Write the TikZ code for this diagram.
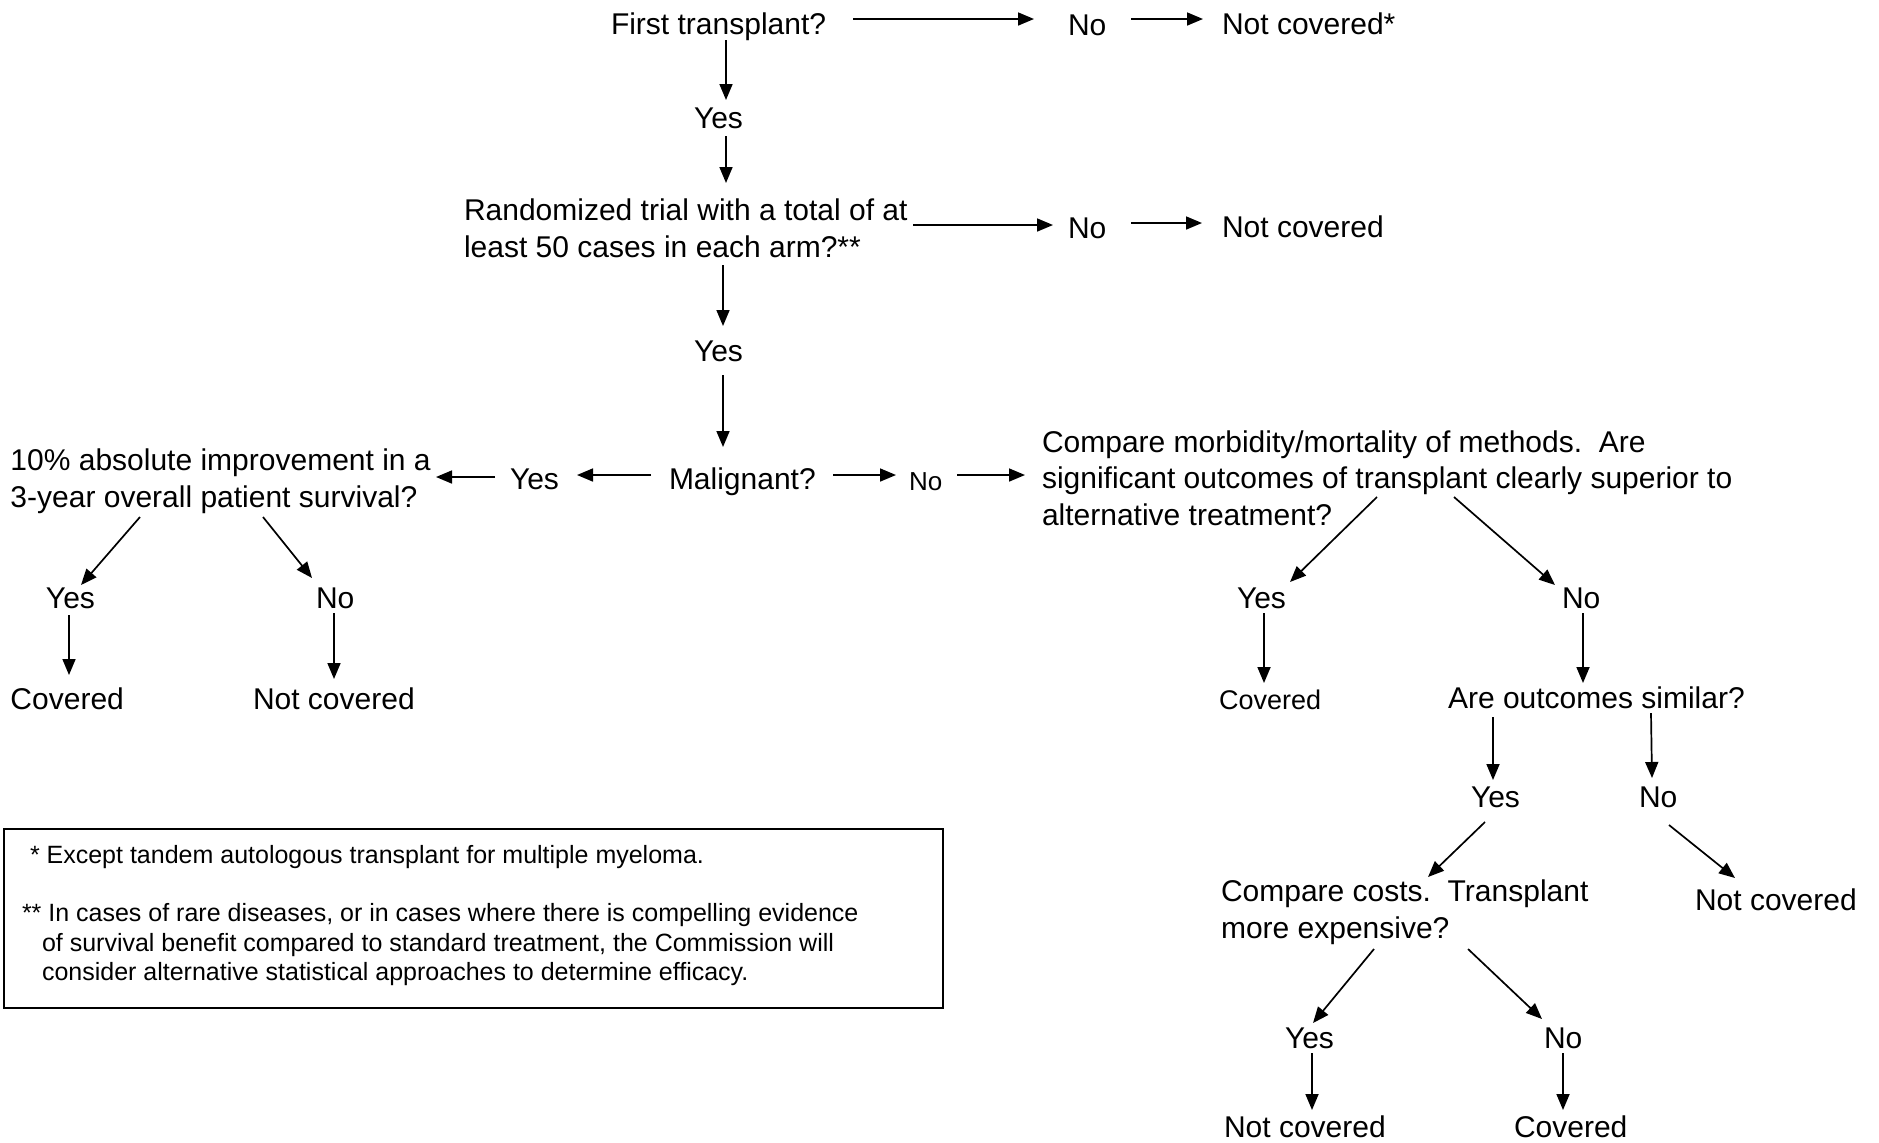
\documentclass[tikz,border=0pt]{standalone}
\usepackage{fontspec}
\setmainfont{Liberation Sans}
\usetikzlibrary{arrows.meta,calc}
\begin{document}
\begin{tikzpicture}[x=0.5pt,y=-0.5pt,
  txt/.style={inner sep=0pt,outer sep=0pt,anchor=base west,align=left,font=\fontsize{15}{18.25}\selectfont},
  smalltxt/.style={txt,font=\fontsize{13}{15}\selectfont},
  midtxt/.style={txt,font=\fontsize{13.5}{16}\selectfont},
  fntxt/.style={txt,font=\fontsize{12.5}{14.75}\selectfont},
  arr/.style={line width=0.85pt,-{Triangle[length=8pt,width=6.5pt]}},
  boxstyle/.style={draw,line width=0.9pt,inner sep=0pt,outer sep=0pt,minimum width=469.5pt,minimum height=89.5pt}]
\useasboundingbox (0,0) rectangle (1879,1142);

% ---- nodes (multi-line nodes are placed at the baseline of their last line) ----
\node[txt] (q1) at (611,34) {First transplant?};
\node[txt] (no1) at (1068,35) {No};
\node[txt] (nc1) at (1222,34) {Not covered*};
\node[txt] (yes1) at (694,128) {Yes};
\node[txt] (q2) at (464,257) {Randomized trial with a total of at\\least 50 cases in each arm?**};
\node[txt] (no2) at (1068,238) {No};
\node[txt] (nc2) at (1222,237) {Not covered};
\node[txt] (yes2) at (694,361) {Yes};
\node[txt] (mal) at (669,489) {Malignant?};
\node[txt] (yes3) at (510,489) {Yes};
\node[smalltxt] (no3) at (909,490) {No};
\node[txt] (q3) at (10.5,507) {10\% absolute improvement in a\\3-year overall patient survival?};
\node[txt] (yes7) at (46,608) {Yes};
\node[txt] (no7) at (316,608) {No};
\node[txt] (cov7) at (10.5,709) {Covered};
\node[txt] (nc7) at (253,709) {Not covered};
\node[txt] (q4) at (1042,525) {Compare morbidity/mortality of methods.\ \ Are\\significant outcomes of transplant clearly superior to\\alternative treatment?};
\node[txt] (yes4) at (1237,608) {Yes};
\node[txt] (no4) at (1562,608) {No};
\node[midtxt] (cov4) at (1219,709) {Covered};
\node[txt] (q5) at (1448,708) {Are outcomes similar?};
\node[txt] (yes5) at (1471,807) {Yes};
\node[txt] (no5) at (1639,807) {No};
\node[txt] (q6) at (1221,938) {Compare costs.\ \ Transplant\\more expensive?};
\node[txt] (nc5) at (1695,910) {Not covered};
\node[txt] (yes6) at (1285,1048) {Yes};
\node[txt] (no6) at (1544,1048) {No};
\node[txt] (nc6) at (1224,1137) {Not covered};
\node[txt] (cov6) at (1514,1137) {Covered};

% ---- footnote box ----
\node[boxstyle] (fnbox) at (473.5,918.5) {};
\node[fntxt] (fn1) at (30,863) {* Except tandem autologous transplant for multiple myeloma.};
\node[fntxt] (fn2) at (22,921) {** In cases of rare diseases, or in cases where there is compelling evidence};
\node[fntxt] (fn3) at (42,951) {of survival benefit compared to standard treatment, the Commission will};
\node[fntxt] (fn4) at (42,980) {consider alternative statistical approaches to determine efficacy.};

% ---- connectors ----
\draw[arr] ($(q1.base west)+(242,-15)$) -- ($(no1.base west)+(-34,-16)$);
\draw[arr] ($(no1.base west)+(63,-16)$) -- ($(nc1.base west)+(-19,-15)$);
\draw[arr] ($(q1.base west)+(115,6)$) -- ($(yes1.base west)+(32,-28)$);
\draw[arr] ($(yes1.base west)+(32,8)$) -- ($(q2.base west)+(262,-74)$);
\draw[arr] ($(q2.base west)+(449,-32)$) -- ($(no2.base west)+(-15,-13)$);
\draw[arr] ($(no2.base west)+(63,-15)$) -- ($(nc2.base west)+(-20,-14)$);
\draw[arr] ($(q2.base west)+(259,8)$) -- ($(yes2.base west)+(29,-35)$);
\draw[arr] ($(yes2.base west)+(29,14)$) -- ($(mal.base west)+(54,-42)$);
\draw[arr] ($(mal.base west)+(-18,-14)$) -- ($(yes3.base west)+(67,-14)$);
\draw[arr] ($(yes3.base west)+(-15,-12)$) -- ($(q3.base west)+(425.5,-30)$);
\draw[arr] ($(mal.base west)+(164,-14)$) -- ($(no3.base west)+(-13,-15)$);
\draw[arr] ($(no3.base west)+(48,-15)$) -- ($(q4.base west)+(-17,-50)$);
\draw[arr] ($(q3.base west)+(129.5,10)$) -- ($(yes7.base west)+(35,-23)$);
\draw[arr] ($(q3.base west)+(252.5,10)$) -- ($(no7.base west)+(-4,-30)$);
\draw[arr] ($(yes7.base west)+(23,7)$) -- ($(cov7.base west)+(58.5,-34)$);
\draw[arr] ($(no7.base west)+(18,5)$) -- ($(nc7.base west)+(81,-30)$);
\draw[arr] ($(q4.base west)+(335,-28)$) -- ($(yes4.base west)+(53,-26)$);
\draw[arr] ($(q4.base west)+(412,-28)$) -- ($(no4.base west)+(-7,-23)$);
\draw[arr] ($(yes4.base west)+(27,5)$) -- ($(cov4.base west)+(45,-26)$);
\draw[arr] ($(no4.base west)+(21,5)$) -- ($(q5.base west)+(135,-25)$);
\draw[arr] ($(q5.base west)+(45,9)$) -- ($(yes5.base west)+(22,-27)$);
\draw[arr] ($(q5.base west)+(203,5)$) -- ($(no5.base west)+(13,-29)$);
\draw[arr] ($(yes5.base west)+(14,15)$) -- ($(q6.base west)+(207,-61)$);
\draw[arr] ($(no5.base west)+(30,18)$) -- ($(nc5.base west)+(40,-32)$);
\draw[arr] ($(q6.base west)+(153,11)$) -- ($(yes6.base west)+(28,-25)$);
\draw[arr] ($(q6.base west)+(247,11)$) -- ($(no6.base west)+(-2,-29)$);
\draw[arr] ($(yes6.base west)+(27,5)$) -- ($(nc6.base west)+(88,-27)$);
\draw[arr] ($(no6.base west)+(19,5)$) -- ($(cov6.base west)+(49,-27)$);
\end{tikzpicture}
\end{document}
